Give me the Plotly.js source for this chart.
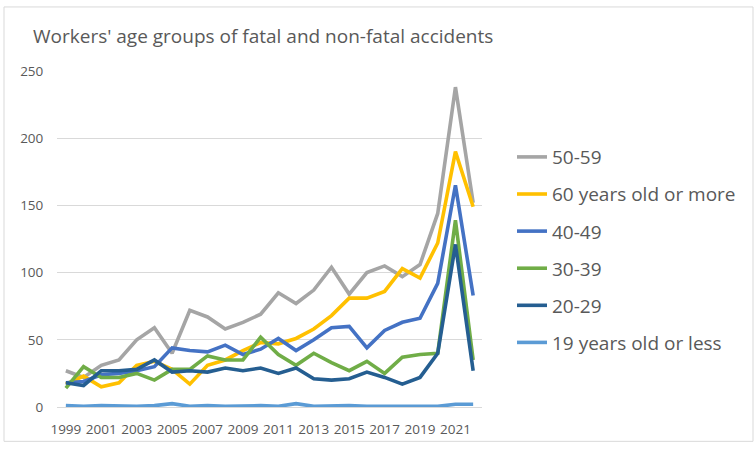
<!DOCTYPE html>
<html>
<head>
<meta charset="utf-8">
<script src="https://cdn.plot.ly/plotly-3.0.1.min.js"></script>
<style>html,body{margin:0;padding:0;background:#fff;}#chart{width:755px;height:449px;}</style>
</head>
<body>
<div id="chart"></div>
<script>
var years = ['1999','2000','2001','2002','2003','2004','2005','2006','2007','2008','2009','2010','2011','2012','2013','2014','2015','2016','2017','2018','2019','2020','2021','2022'];
var tickYears = ['1999','2001','2003','2005','2007','2009','2011','2013','2015','2017','2019','2021'];

var age50_59 = [27,22,31,35,50,59,40,72,67,58,63,69,85,77,87,104,84,100,105,97,106,144,238,152];
var age60plus = [17,23,15,18,31,34,28,17,31,35,42,48,47,51,58,68,81,81,86,103,96,122,190,149];
var age40_49 = [18,19,24,25,27,30,44,42,41,46,39,43,51,42,50,59,60,44,57,63,66,92,165,83];
var age30_39 = [14,30,22,22,25,20,28,28,38,35,35,52,39,31,40,33,27,34,25,37,39,40,139,35];
var age20_29 = [18,16,27,27,28,35,26,27,26,29,27,29,25,29,21,20,21,26,22,17,22,40,121,27];
var age19less = [1,0.5,1,0.5,0.5,1,2.5,0.5,1,0.5,1,1,0.5,2.5,0.5,1,1,0.5,0.5,1,1,0.5,2,2];

var seriesNames = ['50-59','60 years old or more','40-49','30-39','20-29','19 years old or less'];
var seriesData = [age50_59, age60plus, age40_49, age30_39, age20_29, age19less];
var seriesColors = ['#A5A5A5','#FFC000','#4472C4','#70AD47','#255E91','#5B9BD5'];

var traces = seriesNames.map(function(n, i){
  return {
    x: years, y: seriesData[i], name: n, type: 'scatter', mode: 'lines',
    line: {color: seriesColors[i], width: 3.6},
    legendgroup: 'g' + i,
    hoverinfo: 'x+y+name'
  };
});

var W = 755, H = 449;
var pl = 57, pr = 482, pt = 71, pb = 406.7;
var pw = pr - pl, ph = pb - pt;
function px(x){ return (x - pl) / pw; }
function py(y){ return (pb - y) / ph; }

var layout = {
  width: W, height: H,
  margin: {l: pl, r: W - pr, t: pt, b: H - pb, pad: 0},
  paper_bgcolor: '#ffffff', plot_bgcolor: '#ffffff',
  font: {family: 'Open Sans, sans-serif', color: '#595959'},
  title: {
    text: "Workers' age groups of fatal and non-fatal accidents",
    font: {size: 19, color: '#595959', family: 'Open Sans, sans-serif'},
    x: 33 / W, xanchor: 'left', xref: 'container',
    y: 1 - 36 / H, yanchor: 'middle', yref: 'container'
  },
  xaxis: {
    type: 'category',
    tickmode: 'array', tickvals: tickYears, ticktext: tickYears,
    showgrid: false, zeroline: false,
    showline: false, ticks: 'outside', ticklen: 10, tickcolor: 'rgba(0,0,0,0)',
    tickfont: {size: 13.5, color: '#595959'},
    tickangle: 0,
    range: [-0.5, 23.5]
  },
  yaxis: {
    range: [0, 250], dtick: 50, tick0: 0,
    showgrid: true, gridcolor: '#D9D9D9', gridwidth: 1,
    zeroline: true, zerolinecolor: '#D9D9D9', zerolinewidth: 1,
    showline: false, ticks: 'outside', ticklen: 10, tickcolor: 'rgba(0,0,0,0)',
    tickfont: {size: 13.5, color: '#595959'}
  },
  showlegend: true,
  legend: {
    x: px(512), xanchor: 'left', y: py(138), yanchor: 'top',
    font: {size: 19, color: '#595959'},
    tracegroupgap: 9.4,
    bgcolor: 'rgba(0,0,0,0)',
    traceorder: 'grouped'
  },
  shapes: [{
    type: 'rect', xref: 'paper', yref: 'paper',
    x0: px(4), x1: px(753), y0: py(441), y1: py(7),
    line: {color: '#D9D9D9', width: 1}, fillcolor: 'rgba(0,0,0,0)', layer: 'below'
  }]
};

Plotly.newPlot('chart', traces, layout, {displayModeBar: false, staticPlot: true});
</script>
</body>
</html>
